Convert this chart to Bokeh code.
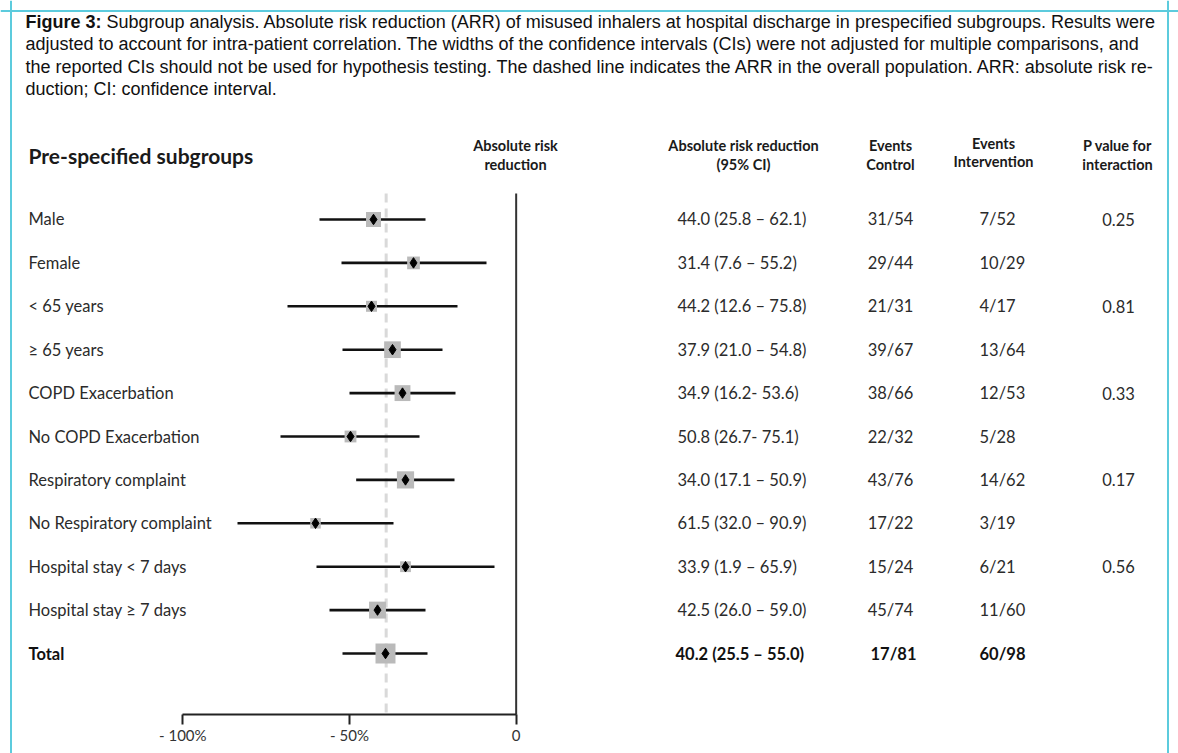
from bokeh.plotting import figure
from bokeh.models import Range1d, LinearAxis, FixedTicker, Span
from bokeh.core.properties import value
from bokeh.embed import file_html
from bokeh.resources import INLINE

# ---------------- data ----------------
subgroups = ["Male", "Female", "< 65 years", "\u2265 65 years", "COPD Exacerbation",
             "No COPD Exacerbation", "Respiratory complaint", "No Respiratory complaint",
             "Hospital stay < 7 days", "Hospital stay \u2265 7 days", "Total"]
# plotted (drawn) absolute risk reduction, percent (negative = reduction)
arr_point = [-42.8, -30.8, -43.4, -37.1, -34.1, -49.7, -33.2, -60.2, -33.2, -41.6, -39.2]
arr_low = [-59.0, -52.4, -68.6, -52.1, -50.0, -70.7, -48.0, -83.6, -59.9, -56.0, -52.1]
arr_high = [-27.2, -8.9, -17.6, -22.1, -18.2, -29.0, -18.5, -36.8, -6.5, -27.2, -26.6]
overall_arr = -39.0
arr_text = ["44.0 (25.8 \u2013 62.1)", "31.4 (7.6 \u2013 55.2)", "44.2 (12.6 \u2013 75.8)",
            "37.9 (21.0 \u2013 54.8)", "34.9 (16.2- 53.6)", "50.8 (26.7- 75.1)",
            "34.0 (17.1 \u2013 50.9)", "61.5 (32.0 \u2013 90.9)", "33.9 (1.9 \u2013 65.9)",
            "42.5 (26.0 \u2013 59.0)", "40.2 (25.5 \u2013 55.0)"]
events_control = ["31/54", "29/44", "21/31", "39/67", "38/66", "22/32", "43/76",
                  "17/22", "15/24", "45/74", "17/81"]
events_intervention = ["7/52", "10/29", "4/17", "13/64", "12/53", "5/28", "14/62",
                       "3/19", "6/21", "11/60", "60/98"]
p_interaction = ["0.25", "", "0.81", "", "0.33", "", "0.17", "", "0.56", "", ""]
tick_values = [-100, -50, 0]
tick_labels = ["- 100%", "- 50%", "0"]

caption_bold = "Figure 3:"
caption_lines = [
    "Subgroup analysis. Absolute risk reduction (ARR) of misused inhalers at hospital discharge in prespecified subgroups. Results were",
    "adjusted to account for intra-patient correlation. The widths of the confidence intervals (CIs) were not adjusted for multiple comparisons, and",
    "the reported CIs should not be used for hypothesis testing. The dashed line indicates the ARR in the overall population. ARR: absolute risk re-",
    "duction; CI: confidence interval.",
]

# ---------------- figure ----------------
W, H = 1178, 753
p = figure(width=W, height=H, output_backend="svg", toolbar_location=None,
           x_axis_type=None, y_axis_type=None, min_border=0,
           x_range=Range1d(0, W), y_range=Range1d(H, 0),
           background_fill_color="white", border_fill_color="white",
           outline_line_color=None)
p.grid.visible = False

# forest-plot scales
p.extra_x_ranges = {"arr": Range1d(-154.7, 198.7)}
p.extra_y_ranges = {"rows": Range1d(12.304, -5.046)}

rows = list(range(len(subgroups)))
n_total = [int(c.split("/")[1]) + int(i.split("/")[1])
           for c, i in zip(events_control, events_intervention)]
box_sizes = [7.7 + 0.0687 * n for n in n_total]

CHART_FONT = "Lato"
TXT = "#2b2b2b"
FS = "16.5px"

# border (cyan frame)
border_col = "#5ccbdd"
for loc in (10.5, 1167.5):
    p.add_layout(Span(location=loc, dimension="height", line_color=border_col, line_width=2))
p.add_layout(Span(location=10.5, dimension="width", line_color=border_col, line_width=2))

# caption
p.text(x=[25], y=[21.5], text=[caption_bold], text_font=value("Liberation Sans"),
       text_font_style="bold", text_font_size="18px", text_baseline="middle",
       text_color="#111111")
cap_x = [106, 25, 25, 25]
cap_y = [21.5, 43.5, 66, 88]
p.text(x=cap_x, y=cap_y, text=caption_lines, text_font=value("Liberation Sans"),
       text_font_size="18px", text_baseline="middle", text_color="#111111")

# headers
p.text(x=[28], y=[155], text=["Pre-specified subgroups"], text_font=value(CHART_FONT),
       text_font_style="bold", text_font_size="21px", text_baseline="middle", text_color="#1a1a1a")
hdr_x = [515, 515, 743, 743, 890, 890, 993, 993, 1117, 1117]
hdr_y = [145, 164, 145, 164, 145, 164, 143, 161, 145, 164]
hdr_t = ["Absolute risk", "reduction", "Absolute risk reduction", "(95% CI)",
         "Events", "Control", "Events", "Intervention", "P value for", "interaction"]
p.text(x=hdr_x, y=hdr_y, text=hdr_t, text_font=value(CHART_FONT), text_font_style="bold",
       text_font_size="14.5px", text_align="center", text_baseline="middle", text_color="#1a1a1a")

# reference lines
p.segment(x0=[overall_arr], y0=[-0.6], x1=[overall_arr], y1=[11.406], x_range_name="arr",
          y_range_name="rows", line_color="#d9d9d9", line_width=3, line_dash="9 6")
p.segment(x0=[0], y0=[-0.6], x1=[0], y1=[11.406], x_range_name="arr", y_range_name="rows",
          line_color="#333333", line_width=2)

# CI lines, boxes, diamonds
p.segment(x0=arr_low, y0=rows, x1=arr_high, y1=rows, x_range_name="arr", y_range_name="rows",
          line_color="#111111", line_width=2.6)
p.scatter(x=arr_point, y=rows, size=box_sizes, marker="square", x_range_name="arr",
          y_range_name="rows", fill_color="#bababa", line_color=None)
p.scatter(x=arr_point, y=rows, size=10.5, marker="diamond", x_range_name="arr",
          y_range_name="rows", fill_color="#000000", line_color="#000000")

# axis
ax = LinearAxis(x_range_name="arr", fixed_location=714, bounds=(-100, 0))
ax.ticker = FixedTicker(ticks=tick_values)
ax.major_label_overrides = {v: l for v, l in zip(tick_values, tick_labels)}
ax.minor_tick_line_color = None
ax.major_tick_out = 10
ax.major_tick_in = 0
ax.axis_line_width = 2
ax.major_tick_line_width = 2
ax.axis_line_color = "#222222"
ax.major_tick_line_color = "#222222"
ax.major_label_text_font = CHART_FONT
ax.major_label_text_font_size = "15px"
ax.major_label_text_color = "#333333"
ax.major_label_standoff = 1
p.add_layout(ax, "below")

# table columns
reg = rows[:-1]
p.text(x=[28] * len(reg), y=reg, text=subgroups[:-1], y_range_name="rows",
       text_font=value(CHART_FONT), text_font_size=FS, text_baseline="middle", text_color=TXT)
p.text(x=[28], y=[rows[-1]], text=[subgroups[-1]], y_range_name="rows",
       text_font=value(CHART_FONT), text_font_style="bold", text_font_size=FS,
       text_baseline="middle", text_color="#111111")

p.text(x=[677] * len(reg), y=reg, text=arr_text[:-1], y_range_name="rows",
       text_font=value(CHART_FONT), text_font_size=FS, text_baseline="middle", text_color=TXT)
p.text(x=[675], y=[rows[-1]], text=[arr_text[-1]], y_range_name="rows",
       text_font=value(CHART_FONT), text_font_style="bold", text_font_size=FS,
       text_baseline="middle", text_color="#111111")

p.text(x=[890] * len(reg), y=reg, text=events_control[:-1], y_range_name="rows",
       text_font=value(CHART_FONT), text_font_size=FS, text_align="center",
       text_baseline="middle", text_color=TXT)
p.text(x=[893], y=[rows[-1]], text=[events_control[-1]], y_range_name="rows",
       text_font=value(CHART_FONT), text_font_style="bold", text_font_size=FS,
       text_align="center", text_baseline="middle", text_color="#111111")

p.text(x=[979] * len(reg), y=reg, text=events_intervention[:-1], y_range_name="rows",
       text_font=value(CHART_FONT), text_font_size=FS, text_baseline="middle", text_color=TXT)
p.text(x=[979], y=[rows[-1]], text=[events_intervention[-1]], y_range_name="rows",
       text_font=value(CHART_FONT), text_font_style="bold", text_font_size=FS,
       text_baseline="middle", text_color="#111111")

p.text(x=[1118] * len(rows), y=rows, text=p_interaction, y_range_name="rows",
       text_font=value(CHART_FONT), text_font_size=FS, text_align="center",
       text_baseline="middle", text_color=TXT)

open("out.html", "w").write(file_html(p, INLINE))
